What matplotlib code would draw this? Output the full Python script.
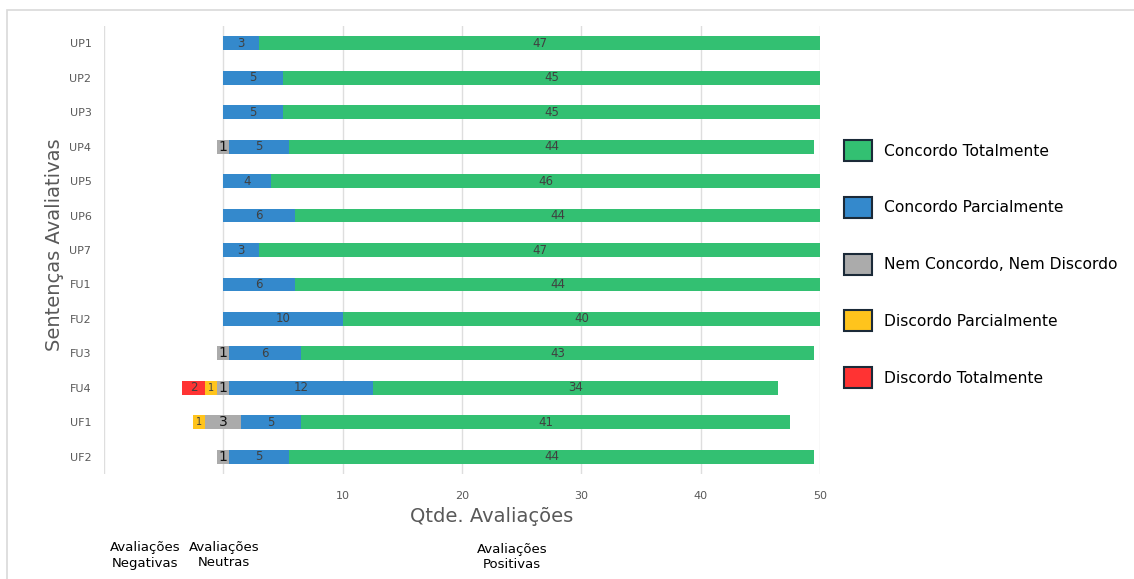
import matplotlib
matplotlib.use("Agg")
import matplotlib.pyplot as plt
import matplotlib.patches as mpatches
import numpy as np

categories = ["UP1", "UP2", "UP3", "UP4", "UP5", "UP6", "UP7",
              "FU1", "FU2", "FU3", "FU4", "UF1", "UF2"]
concordo_total = [47, 45, 45, 44, 46, 44, 47, 44, 40, 43, 34, 41, 44]
concordo_parcial = [3, 5, 5, 5, 4, 6, 3, 6, 10, 6, 12, 5, 5]
neutro = [0, 0, 0, 1, 0, 0, 0, 0, 0, 1, 1, 3, 1]
discordo_parcial = [0, 0, 0, 0, 0, 0, 0, 0, 0, 0, 1, 1, 0]
discordo_total = [0, 0, 0, 0, 0, 0, 0, 0, 0, 0, 2, 0, 0]
x_ticks = [10, 20, 30, 40, 50]

c_green = "#33C072"
c_blue = "#3489CC"
c_gray = "#ABABAB"
c_yellow = "#FFC41C"
c_red = "#FF3333"

fig = plt.figure(figsize=(11.34, 5.79), dpi=100)
# outer frame
fig.patches.append(mpatches.Rectangle((7 / 1134, -0.1), 1.2, 1 - 10 / 579 + 0.1,
                                      transform=fig.transFigure, fill=False,
                                      edgecolor="#d9d9d9", linewidth=1.2))

ax = fig.add_axes([104 / 1134, 1 - 474 / 579, (820 - 104) / 1134, (474 - 26) / 579])

y = np.arange(len(categories))
ct = np.array(concordo_total, float)
cp = np.array(concordo_parcial, float)
nn = np.array(neutro, float)
dp = np.array(discordo_parcial, float)
dt = np.array(discordo_total, float)

h = 0.4
n_left = -nn / 2
cp_left = nn / 2
ct_left = cp_left + cp
dp_left = n_left - dp
dt_left = dp_left - dt

ax.barh(y, ct, left=ct_left, height=h, color=c_green, zorder=3)
ax.barh(y, cp, left=cp_left, height=h, color=c_blue, zorder=3)
ax.barh(y, nn, left=n_left, height=h, color=c_gray, zorder=3)
ax.barh(y, dp, left=dp_left, height=h, color=c_yellow, zorder=3)
ax.barh(y, dt, left=dt_left, height=h, color=c_red, zorder=3)

for i in range(len(categories)):
    if ct[i] > 0:
        ax.text(ct_left[i] + ct[i] / 2, y[i], f"{int(ct[i])}", ha="center", va="center",
                fontsize=8.5, color="#404040", zorder=4)
    if cp[i] > 0:
        ax.text(cp_left[i] + cp[i] / 2, y[i], f"{int(cp[i])}", ha="center", va="center",
                fontsize=8.5, color="#404040", zorder=4)
    if nn[i] > 0:
        ax.text(n_left[i] + nn[i] / 2, y[i], f"{int(nn[i])}", ha="center", va="center",
                fontsize=10, color="#111111", zorder=4)
    if dp[i] > 0:
        ax.text(dp_left[i] + dp[i] / 2, y[i], f"{int(dp[i])}", ha="center", va="center",
                fontsize=7, color="#404040", zorder=4)
    if dt[i] > 0:
        ax.text(dt_left[i] + dt[i] / 2, y[i], f"{int(dt[i])}", ha="center", va="center",
                fontsize=8.5, color="#404040", zorder=4)

ax.set_xlim(-10, 50)
ax.set_ylim(len(categories) - 0.5, -0.5)
ax.set_xticks([-10, 0] + x_ticks)
ax.set_xticklabels(["", ""] + [str(t) for t in x_ticks])
ax.set_yticks(y)
ax.set_yticklabels(categories)
ax.tick_params(axis="both", length=0, labelsize=8, colors="#595959")
ax.tick_params(axis="x", pad=12)
ax.tick_params(axis="y", pad=9)
ax.grid(axis="x", color="#dedede", linewidth=1, zorder=0)
for s in ax.spines.values():
    s.set_visible(False)

fig.text(55 / 1134, 1 - 245 / 579, "Sentenças Avaliativas", rotation=90, ha="center",
         va="center", fontsize=14, color="#595959")
fig.text(492 / 1134, 1 - 517 / 579, "Qtde. Avaliações", ha="center", va="center",
         fontsize=14, color="#595959")

fig.text(145 / 1134, 1 - 555 / 579, "Avaliações\nNegativas", ha="center", va="center",
         fontsize=9.5, color="black", linespacing=1.3)
fig.text(224 / 1134, 1 - 555 / 579, "Avaliações\nNeutras", ha="center", va="center",
         fontsize=9.5, color="black", linespacing=1.3)
fig.text(512 / 1134, 1 - 557 / 579, "Avaliações\nPositivas", ha="center", va="center",
         fontsize=9.5, color="black", linespacing=1.3)

labels = ["Concordo Totalmente", "Concordo Parcialmente", "Nem Concordo, Nem Discordo",
          "Discordo Parcialmente", "Discordo Totalmente"]
colors = [c_green, c_blue, c_gray, c_yellow, c_red]
handles = [mpatches.Patch(facecolor=c, edgecolor="#1b2a38", linewidth=1.5, label=l)
           for c, l in zip(colors, labels)]
fig.legend(handles=handles, loc="upper left", bbox_to_anchor=(830 / 1134, 1 - 126 / 579),
           frameon=False, fontsize=11.2, handlelength=1.8, handleheight=1.7,
           labelspacing=2.3, handletextpad=0.8)

fig.savefig("out.png", dpi=100)
